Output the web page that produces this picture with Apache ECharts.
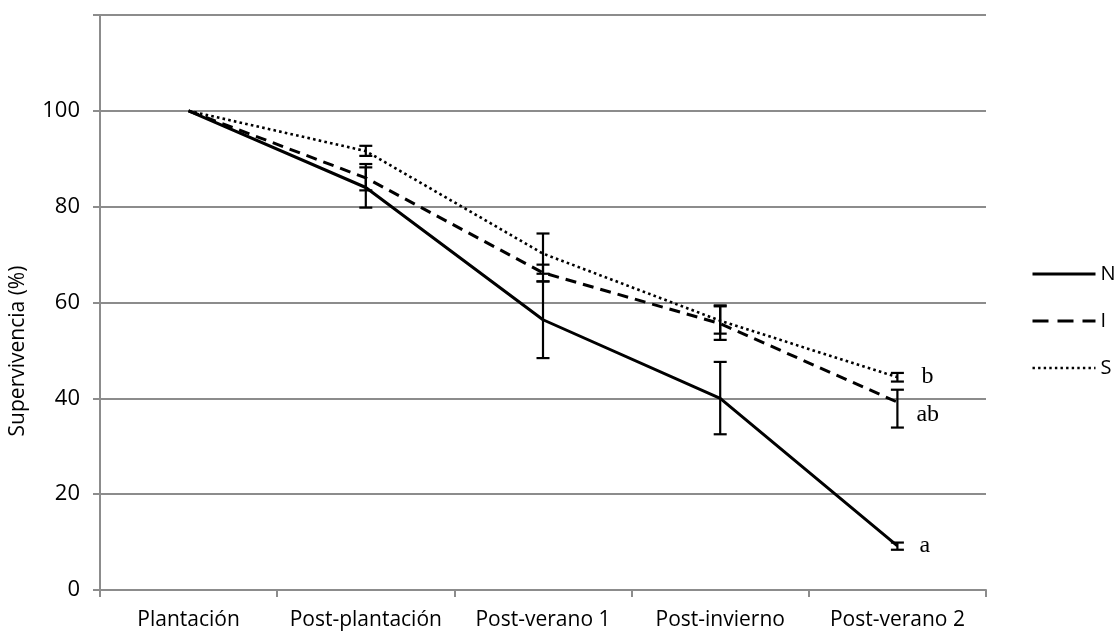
<!DOCTYPE html>
<html><head><meta charset="utf-8">
<script src="https://cdn.jsdelivr.net/npm/echarts@6/dist/echarts.min.js"></script>
<style>html,body{margin:0;padding:0;background:#fff}#c{width:1114px;height:636px}</style>
</head><body><div id="c"></div>
<script>
var categories = ['Plantación','Post-plantación','Post-verano 1','Post-invierno','Post-verano 2'];
var seriesNames = ['N','I','S'];
var valuesN = [100, 84, 56.4, 40, 9.2];
var valuesI = [100, 86, 66.2, 55.6, 39.2];
var valuesS = [100, 91.6, 70.2, 56.2, 44.4];
var errLowN  = [null, 79.8, 48.4, 32.5, 8.4];
var errHighN = [null, 88.2, 64.4, 47.6, 9.9];
var errLowI  = [null, 83.4, 64.4, 52.2, 33.9];
var errHighI = [null, 88.9, 67.9, 59.2, 41.8];
var errLowS  = [null, 90.6, 66.0, 53.5, 43.5];
var errHighS = [null, 92.7, 74.4, 59.4, 45.3];
var letters = ['a','ab','b'];
var yTicks = [0,20,40,60,80,100];

var chart = echarts.init(document.getElementById('c'));
var FONT = '"Open Sans", "Noto Sans", sans-serif';

function errData(lo, hi){
  var d = [];
  for (var i=0;i<lo.length;i++){ if(lo[i]!=null) d.push([i, lo[i], hi[i]]); }
  return d;
}
function errSeries(name, lo, hi){
  return {
    type:'custom', name: name + '_err', silent:true, z:5,
    data: errData(lo,hi),
    encode:{x:0, y:[1,2]},
    renderItem: function(params, api){
      var x = api.value(0);
      var p1 = api.coord([x, api.value(1)]);
      var p2 = api.coord([x, api.value(2)]);
      var w = 6.5;
      var st = {stroke:'#000', lineWidth:2.2};
      return {type:'group', children:[
        {type:'line', shape:{x1:p1[0],y1:p1[1],x2:p2[0],y2:p2[1]}, style:st},
        {type:'line', shape:{x1:p1[0]-w,y1:p1[1],x2:p1[0]+w,y2:p1[1]}, style:st},
        {type:'line', shape:{x1:p2[0]-w,y1:p2[1],x2:p2[0]+w,y2:p2[1]}, style:st}
      ]};
    }
  };
}
function letterMark(vals, letter, offset){
  var last = vals.length - 1;
  return {
    symbol:'circle', symbolSize:0, silent:true, animation:false,
    itemStyle:{color:'rgba(0,0,0,0)'},
    data:[{coord:[last, vals[last]],
      label:{show:true, formatter:letter, position:'right', distance:0, offset:offset,
        fontFamily:'"Liberation Serif", "DejaVu Serif", serif', fontSize:24, color:'#000'}}]
  };
}
var legendLineStyles = [
  {color:'#000', width:3, type:'solid'},
  {color:'#000', width:3, type:[16,9]},
  {color:'#000', width:2.6, type:[2.4,3.2]}
];

chart.setOption({
  animation:false,
  grid:{left:100, right:128, top:15, bottom:46},
  legend:{
    orient:'vertical', left:1026, top:259, itemGap:27, itemWidth:63, itemHeight:24,
    data: seriesNames.map(function(n,i){ return {name:n, lineStyle:legendLineStyles[i]}; }),
    itemStyle:{opacity:0, borderWidth:0},
    textStyle:{fontFamily:FONT, fontSize:20, color:'#000'}
  },
  graphic:[{type:'text', x:18, y:351, rotation:Math.PI/2,
    style:{text:'Supervivencia (%)', fontFamily:FONT, fontSize:21, fill:'#000',
      textAlign:'center', textVerticalAlign:'middle'}}],
  xAxis:{
    type:'category', data:categories, boundaryGap:true,
    axisLine:{lineStyle:{color:'#8c8c8c', width:2}},
    axisTick:{show:true, alignWithLabel:false, length:7, lineStyle:{color:'#8c8c8c', width:2}},
    axisLabel:{fontFamily:FONT, fontSize:21, color:'#000', margin:20, interval:0}
  },
  yAxis:{
    type:'value', min:0, max:120, interval:20,
    axisLine:{show:true, lineStyle:{color:'#8c8c8c', width:2}},
    axisTick:{show:true, length:7, lineStyle:{color:'#8c8c8c', width:2}},
    splitLine:{show:true, lineStyle:{color:'#8c8c8c', width:2}},
    axisLabel:{fontFamily:FONT, fontSize:22, color:'#000', margin:20,
      formatter:function(v){ return yTicks.indexOf(v)>=0 ? String(v) : ''; }}
  },
  series:[
    {name:'N', type:'line', data:valuesN, symbol:'none', z:3,
      lineStyle:{color:'#000', width:3, type:'solid'}, itemStyle:{color:'#000'},
      markPoint:letterMark(valuesN, letters[0], [22,0])},
    {name:'I', type:'line', data:valuesI, symbol:'none', z:3,
      lineStyle:{color:'#000', width:3, type:[11,7]}, itemStyle:{color:'#000'},
      markPoint:letterMark(valuesI, letters[1], [19,13])},
    {name:'S', type:'line', data:valuesS, symbol:'none', z:3,
      lineStyle:{color:'#000', width:2.6, type:[2.6,3.2]}, itemStyle:{color:'#000'},
      markPoint:letterMark(valuesS, letters[2], [24,-1])},
    errSeries('N', errLowN, errHighN),
    errSeries('I', errLowI, errHighI),
    errSeries('S', errLowS, errHighS)
  ]
});
</script></body></html>
